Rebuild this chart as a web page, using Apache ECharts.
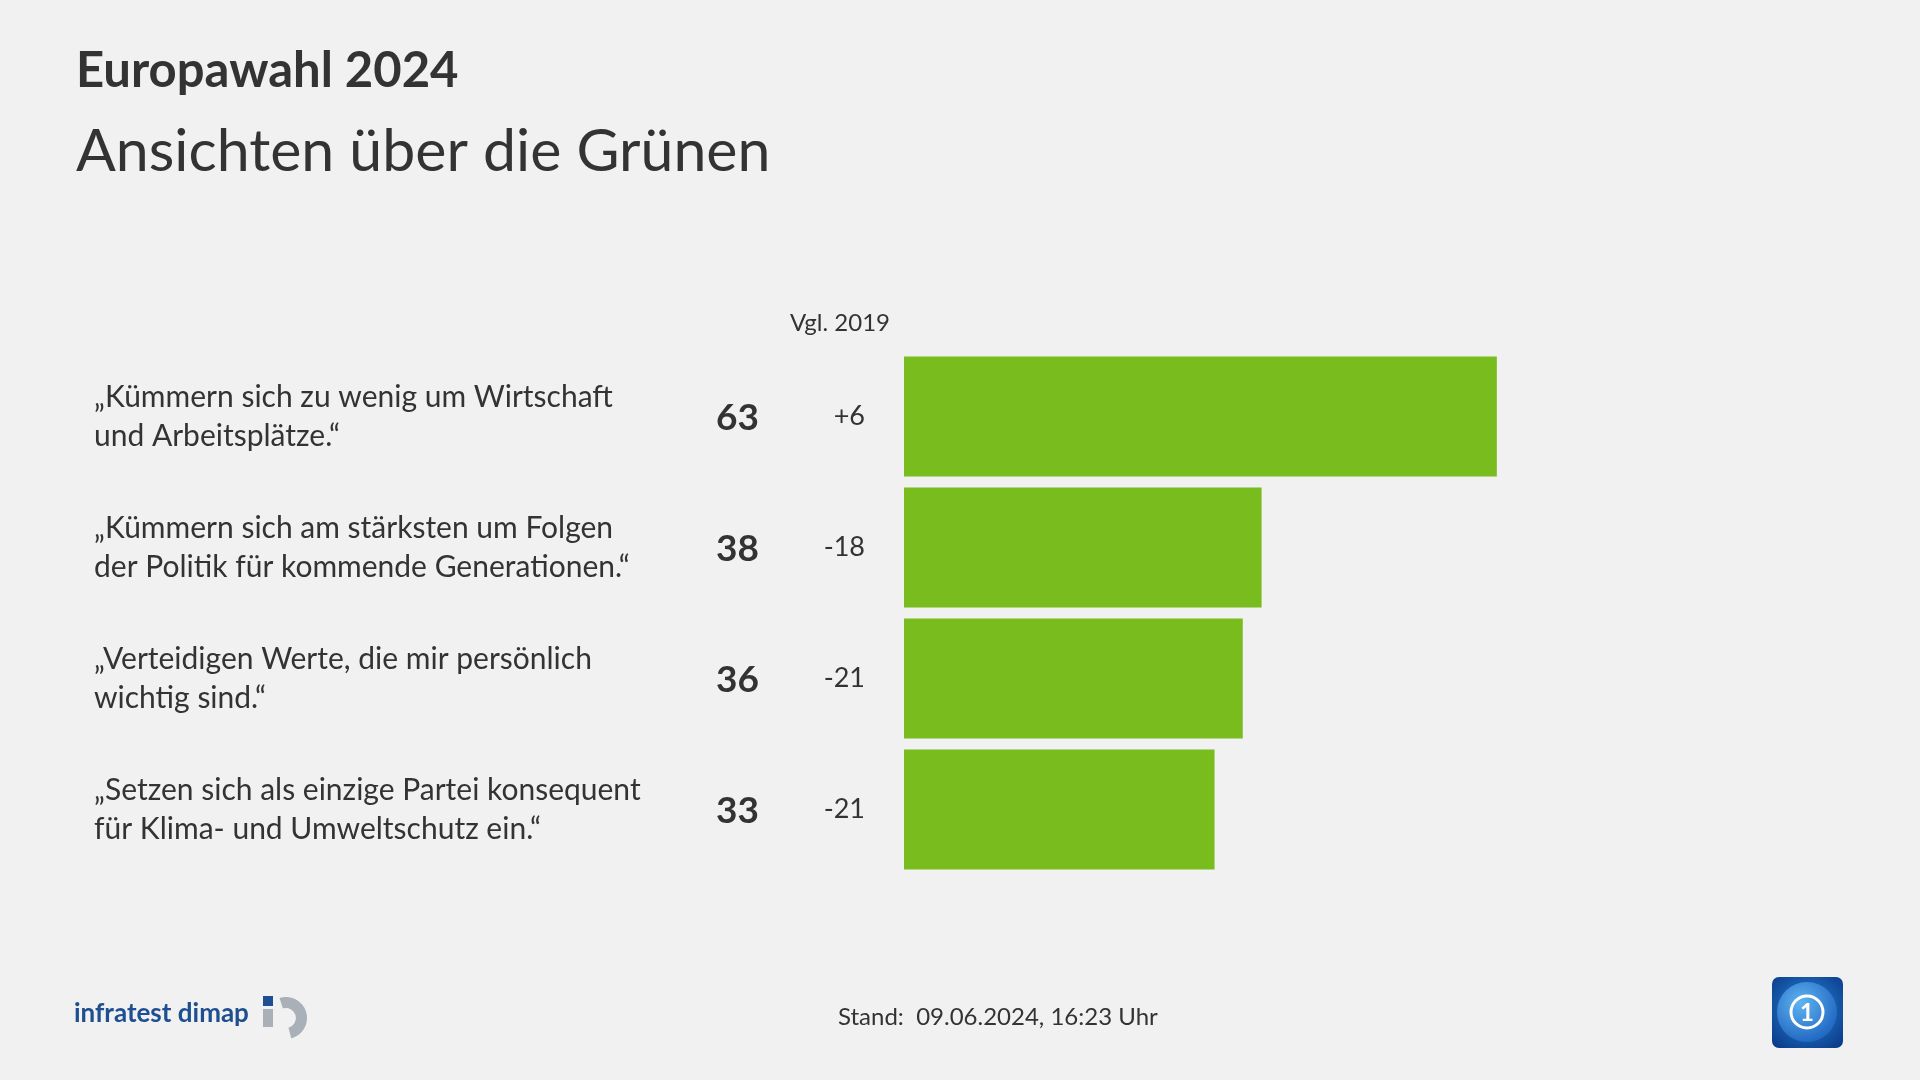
<!DOCTYPE html>
<html>
<head>
<meta charset="utf-8">
<script src="https://cdn.jsdelivr.net/npm/echarts@6/dist/echarts.min.js"></script>
<style>
html,body{margin:0;padding:0;background:#f1f1f1;}
#chart{width:1920px;height:1080px;}
</style>
</head>
<body>
<div id="chart"></div>
<script>
const categories = [
  '„Kümmern sich zu wenig um Wirtschaft\nund Arbeitsplätze.“',
  '„Kümmern sich am stärksten um Folgen\nder Politik für kommende Generationen.“',
  '„Verteidigen Werte, die mir persönlich\nwichtig sind.“',
  '„Setzen sich als einzige Partei konsequent\nfür Klima- und Umweltschutz ein.“'
];
const values = [63, 38, 36, 33];
const changes = [6, -18, -21, -21];
const titleText = 'Europawahl 2024';
const subtitleText = 'Ansichten über die Grünen';
const compareHeader = 'Vgl. 2019';
const standText = 'Stand:  09.06.2024, 16:23 Uhr';
const sourceText = 'infratest dimap';

const FONT = 'Lato';
const TXT = '#333333';
const chart = echarts.init(document.getElementById('chart'));
const fmtChange = v => (v > 0 ? '+' + v : String(v));

chart.setOption({
  backgroundColor: '#f1f1f1',
  animation: false,
  grid: { left: 904, right: 75, top: 351, height: 524 },
  xAxis: { type: 'value', min: 0, max: 100, show: false },
  yAxis: [
    {
      type: 'category', data: categories, inverse: true,
      axisLine: { show: false }, axisTick: { show: false },
      axisLabel: { align: 'left', margin: 810, color: TXT, fontFamily: FONT, fontSize: 30, lineHeight: 39, padding: [4, 0, 0, 0] }
    },
    {
      type: 'category', data: changes.map(fmtChange), inverse: true, position: 'left',
      axisLine: { show: false }, axisTick: { show: false },
      axisLabel: { align: 'right', margin: 39, color: TXT, fontFamily: FONT, fontSize: 27, padding: [4, 0, 0, 0] }
    }
  ],
  series: [{
    type: 'bar', data: values, yAxisIndex: 0, barWidth: 120,
    itemStyle: { color: '#79bc1e' },
    label: { show: true, position: 'left', distance: 145, offset: [0, 2], color: TXT, fontFamily: FONT, fontWeight: 'bold', fontSize: 37 }
  }],
  graphic: [
    { type: 'text', x: 76, y: 71, style: { text: titleText, font: 'bold 49px ' + FONT, fill: TXT, verticalAlign: 'middle' } },
    { type: 'text', x: 76, y: 152, style: { text: subtitleText, font: '59px ' + FONT, fill: TXT, verticalAlign: 'middle' } },
    { type: 'text', x: 890, y: 323, style: { text: compareHeader, font: '24px ' + FONT, fill: TXT, align: 'right', verticalAlign: 'middle' } },
    { type: 'text', x: 838, y: 1017, style: { text: standText, font: '24px ' + FONT, fill: TXT, verticalAlign: 'middle' } },
    { type: 'text', x: 74, y: 1014, style: { text: sourceText, font: 'bold 26px ' + FONT, fill: '#1d4f91', verticalAlign: 'middle' } },
    { type: 'rect', shape: { x: 263, y: 996, width: 10, height: 10 }, style: { fill: '#1d4f91' } },
    { type: 'rect', shape: { x: 263, y: 1009, width: 10, height: 18 }, style: { fill: '#a9b0b8' } },
    { type: 'sector', shape: { cx: 286, cy: 1018, r: 21, r0: 10, startAngle: -Math.PI * 0.6, endAngle: Math.PI * 0.42, clockwise: true }, style: { fill: '#a9b0b8' } },
    { type: 'rect', shape: { x: 1772, y: 977, width: 71, height: 71, r: 7 },
      style: { fill: new echarts.graphic.RadialGradient(0.5, 0.45, 0.7, [{ offset: 0, color: '#2a86dc' }, { offset: 1, color: '#0a3a88' }]) } },
    { type: 'circle', shape: { cx: 1807, cy: 1012, r: 30 },
      style: { fill: new echarts.graphic.RadialGradient(0.4, 0.35, 0.8, [{ offset: 0, color: '#5fb4f2' }, { offset: 1, color: '#1558b8' }]) } },
    { type: 'circle', shape: { cx: 1807, cy: 1012, r: 16 }, style: { fill: 'none', stroke: '#ffffff', lineWidth: 3 } },
    { type: 'text', x: 1807, y: 1013, style: { text: '1', font: 'bold 24px ' + FONT, fill: '#ffffff', align: 'center', verticalAlign: 'middle' } }
  ]
});
</script>
</body>
</html>
